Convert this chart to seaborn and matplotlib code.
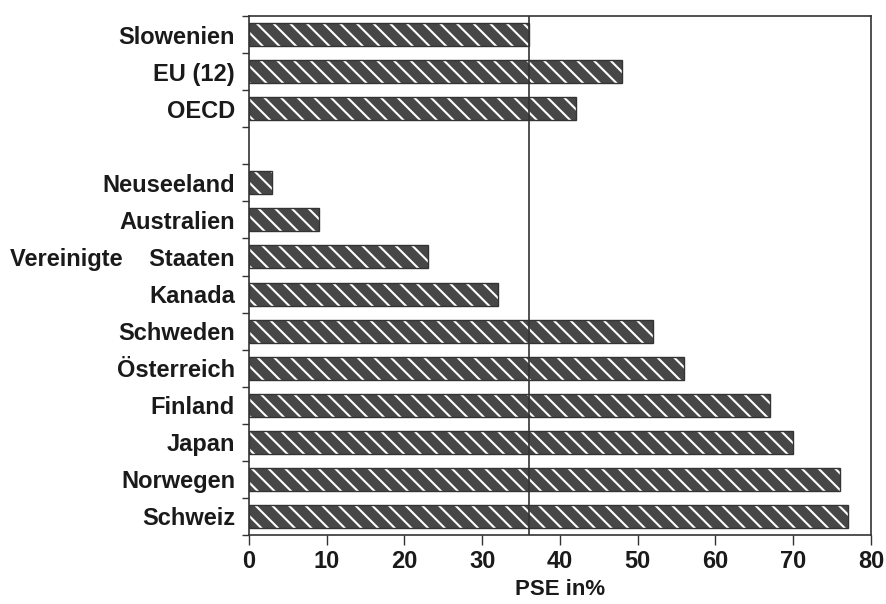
import matplotlib
matplotlib.use("Agg")
import matplotlib.pyplot as plt
import seaborn as sns
import pandas as pd
import numpy as np

countries = ["Slowenien", "EU (12)", "OECD", "Neuseeland", "Australien",
             "Vereinigte    Staaten", "Kanada", "Schweden", "Österreich",
             "Finland", "Japan", "Norwegen", "Schweiz"]
pse = [36, 48, 42, 3, 9, 23, 32, 52, 56, 67, 70, 76, 77]
spacer = " "
order = countries[:3] + [spacer] + countries[3:]
reference_value = 36
x_ticks = [0, 10, 20, 30, 40, 50, 60, 70, 80]
x_label = "PSE in%"

sns.set_theme(style="white")
plt.rcParams["font.family"] = ["Liberation Sans", "DejaVu Sans"]
plt.rcParams["font.weight"] = "bold"
plt.rcParams["hatch.linewidth"] = 1.5

df = pd.DataFrame({"Land": countries, "PSE": pse})

fig = plt.figure(figsize=(8.87, 6.04), dpi=100)
ax = fig.add_axes([249/887, 1-535/604, (871-249)/887, (535-16)/604])

dark = "#474747"
sns.barplot(data=df, y="Land", x="PSE", order=order, orient="h",
            color=dark, width=0.62, hatch="\\\\", edgecolor="white",
            linewidth=0, saturation=1, ax=ax)
sns.barplot(data=df, y="Land", x="PSE", order=order, orient="h",
            fill=False, width=0.62, edgecolor="#333333",
            linewidth=1.0, ax=ax)

ax.axvline(reference_value, color="#333333", lw=1.2, zorder=5)

ax.set_xlim(x_ticks[0], x_ticks[-1])
ax.set_xticks(x_ticks)
ax.set_xticklabels([str(t) for t in x_ticks], fontsize=17, fontweight="bold",
                   color="#1a1a1a")
ax.set_ylim(len(order) - 0.5, -0.5)
ax.set_yticks(range(len(order)))
ax.set_yticklabels(order, fontsize=17, fontweight="bold", color="#1a1a1a")
ax.set_yticks(np.arange(-0.5, len(order), 1), minor=True)
ax.tick_params(axis="y", which="major", length=0, pad=10)
ax.tick_params(axis="y", which="minor", length=5, width=1, color="#333333", left=True)
ax.tick_params(axis="x", which="major", length=7, width=1, color="#333333", bottom=True, pad=4)
ax.set_xlabel(x_label, fontsize=16, fontweight="bold", labelpad=4, color="#1a1a1a")
ax.set_ylabel("")
for s in ax.spines.values():
    s.set_visible(True)
    s.set_color("#333333")
    s.set_linewidth(1.2)

fig.savefig("out.png", dpi=100)
